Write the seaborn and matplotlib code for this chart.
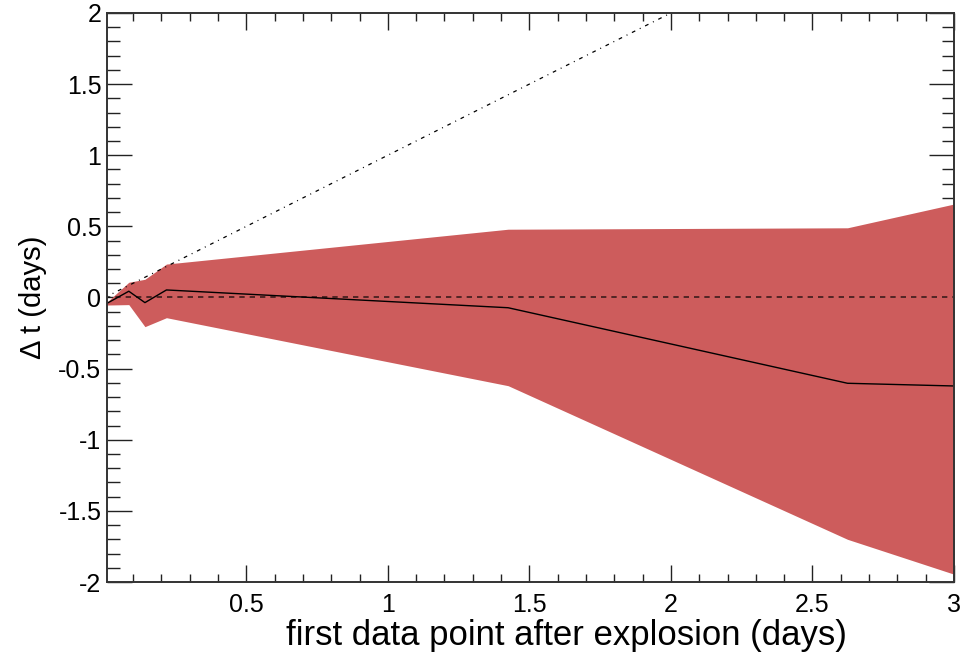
import numpy as np
import matplotlib
matplotlib.use("Agg")
import matplotlib.pyplot as plt
import seaborn as sns
from matplotlib.ticker import MultipleLocator

# data
first_point = [0.009, 0.085, 0.142, 0.218, 1.425, 2.624, 3.0]
dt_mean = [-0.040, 0.044, -0.036, 0.053, -0.072, -0.603, -0.622]
dt_upper = [-0.030, 0.107, 0.128, 0.235, 0.480, 0.490, 0.657]
dt_lower = [-0.053, -0.050, -0.205, -0.142, -0.620, -1.700, -1.945]
diag_x = [0.0, 3.0]  # y = x limit

sns.set_style("white")
plt.rcParams["font.family"] = ["Liberation Sans", "DejaVu Sans"]
plt.rcParams["text.color"] = "black"
plt.rcParams["xtick.color"] = "black"
plt.rcParams["ytick.color"] = "black"
plt.rcParams["axes.labelcolor"] = "black"

fig = plt.figure(figsize=(9.64, 6.56), dpi=100)
ax = fig.add_axes([0.111, 0.1128, 0.8786, 0.8674])

ax.fill_between(first_point, dt_lower, dt_upper, color="#CD5C5C", lw=0, zorder=1)
sns.lineplot(x=first_point, y=dt_mean, color="black", lw=1.0, ax=ax, zorder=3,
             estimator=None, sort=False)
sns.lineplot(x=[0.0, 3.0], y=[0.0, 0.0], color="black", alpha=0.7, lw=1.2,
             dashes=False, ax=ax, zorder=2).lines[-1].set_dashes((3.2, 3.0))
sns.lineplot(x=diag_x, y=diag_x, color="black", lw=0.9, ax=ax, zorder=2,
             estimator=None).lines[-1].set_dashes((3, 4, 0.8, 4))

ax.set_xlim(0.008, 3.0)
ax.set_ylim(-2, 2)
ax.xaxis.set_minor_locator(MultipleLocator(0.1))
ax.yaxis.set_minor_locator(MultipleLocator(0.1))
ax.set_xticks([0.5, 1, 1.5, 2, 2.5, 3])
ax.set_xticklabels(["0.5", "1", "1.5", "2", "2.5", "3"])
ax.set_yticks([-2, -1.5, -1, -0.5, 0, 0.5, 1, 1.5, 2])
ax.set_yticklabels(["-2", "-1.5", "-1", "-0.5", "0", "0.5", "1", "1.5", "2"])

ax.tick_params(axis="x", which="major", direction="in", length=12, width=1,
               top=True, bottom=True, labelsize=18, pad=8, color="#222222")
ax.tick_params(axis="x", which="minor", direction="in", length=6, width=1,
               top=True, bottom=True, color="#222222")
ax.tick_params(axis="y", which="major", direction="in", length=18, width=1,
               left=True, right=True, labelsize=18, pad=4, color="#222222")
ax.tick_params(axis="y", which="minor", direction="in", length=9, width=1,
               left=True, right=True, color="#222222")
for s in ax.spines.values():
    s.set_linewidth(1.4)
    s.set_color("#333333")
    s.set_zorder(5)

ax.set_xlabel("first data point after explosion (days)", fontsize=25)
ax.xaxis.set_label_coords(0.542, -0.065)
ax.set_ylabel("\u0394 t (days)", fontsize=21, labelpad=8)

fig.savefig("out.png", dpi=100)
